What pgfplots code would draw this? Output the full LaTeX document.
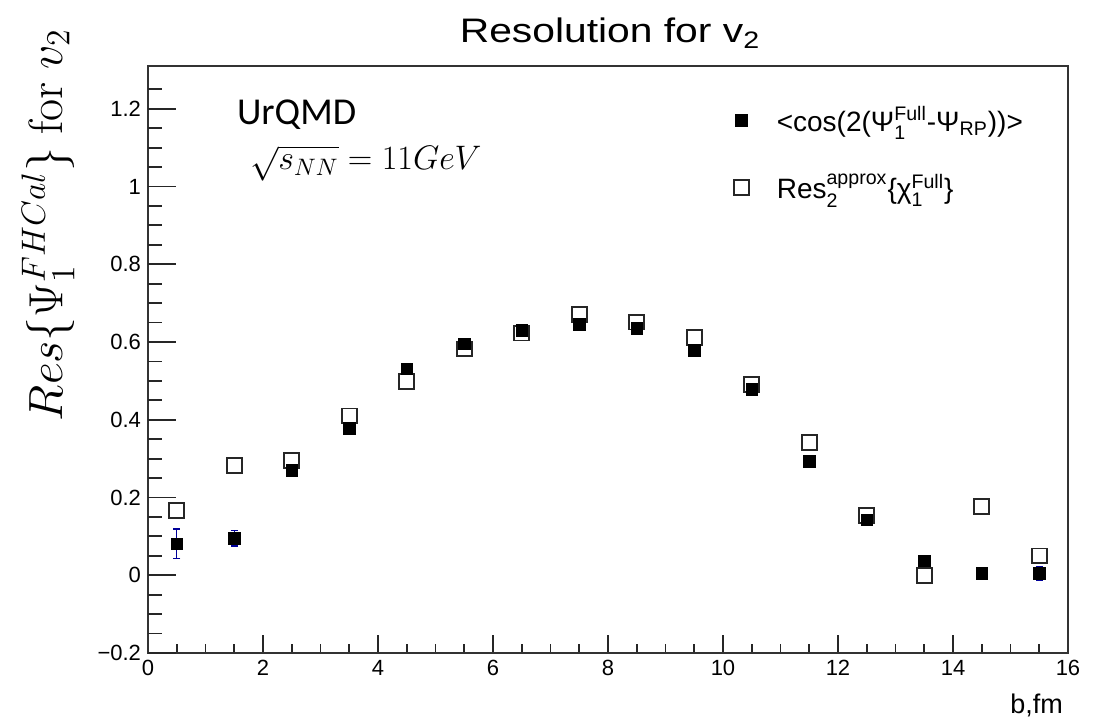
\RequirePackage{fix-cm}
\documentclass[border=0pt]{standalone}
\usepackage{amsmath}
\usepackage{fontspec}
\setmainfont{Liberation Sans}
\newfontfamily\lmserif{Latin Modern Roman}
\newfontfamily\carlito{Carlito}
\newfontfamily\widesans[FakeStretch=1.2]{Liberation Sans}
\usepackage{pgfplots}
\usepackage{pgfplotstable}
\pgfplotsset{compat=1.18}

\pgfplotstableread{
b     f      ef     o
0.5   0.081  0.038  0.167
1.5   0.095  0.020  0.283
2.5   0.269  0.008  0.295
3.5   0.378  0.006  0.410
4.5   0.531  0.005  0.498
5.5   0.595  0.005  0.582
6.5   0.630  0.005  0.623
7.5   0.645  0.005  0.670
8.5   0.635  0.005  0.651
9.5   0.578  0.005  0.611
10.5  0.478  0.005  0.490
11.5  0.293  0.005  0.342
12.5  0.142  0.006  0.153
13.5  0.037  0.006  0.000
14.5  0.004  0.006  0.177
15.5  0.004  0.017  0.050
}\data

\begin{document}
\begin{tikzpicture}
\useasboundingbox (-74pt,-34.5pt) rectangle (473pt,326.5pt);
\begin{axis}[
  name=main, at={(0pt,0pt)}, anchor=south west,
  scale only axis, width=460pt, height=293.5pt,
  xmin=0, xmax=16, ymin=-0.2, ymax=1.31,
  xtick={0,2,...,16}, xticklabels={0,2,4,6,8,10,12,14,16},
  minor xtick={0.5,1,...,15.5},
  ytick=\empty,
  xtick pos=bottom, tick align=inside,
  major tick length=9pt, minor tick length=4.5pt,
  tick style={black!85, line width=0.9pt},
  axis line style={black!80, line width=1pt},
  xticklabel style={font=\fontsize{11}{13}\selectfont},
  clip=false,
  reverse legend,
  legend style={at={(0.63,0.945)}, anchor=north west, draw=none, fill=none,
    font=\fontsize{14}{16}\selectfont, row sep=16pt, column sep=12pt},
  legend cell align=left,
]
\addplot[only marks, mark=square, mark size=3.7pt, mark options={draw=black!85, line width=0.9pt, fill=none}]
  table[x=b, y=o]{\data};
\addlegendentry{Res$_{\text{2}}^{\text{approx}}$\{χ$_{\text{1}}^{\text{Full}}$\}}
\addplot[only marks, mark=square*, mark size=2.9pt, mark options={fill=black, draw=black},
  error bars/.cd, y dir=both, y explicit,
  error bar style={blue!60!black, line width=0.6pt},
  error mark options={blue!60!black, line width=0.6pt, mark size=1.8pt, rotate=90}]
  table[x=b, y=f, y error=ef]{\data};
\addlegendentry{<cos(2(Ψ$_{\text{1}}^{\text{Full}}$-Ψ$_{\text{RP}}$))>}
\end{axis}
\begin{axis}[
  at={(0pt,0pt)}, anchor=south west,
  scale only axis, width=460pt, height=293.5pt,
  xmin=0, xmax=16, ymin=-0.2, ymax=1.31,
  xtick=\empty,
  ytick={-0.2,0,0.2,0.4,0.6,0.8,1,1.2},
  yticklabels={−0.2,0,0.2,0.4,0.6,0.8,1,1.2},
  minor ytick={-0.15,-0.1,-0.05,0.05,0.1,0.15,0.25,0.3,0.35,0.45,0.5,0.55,0.65,0.7,0.75,0.85,0.9,0.95,1.05,1.1,1.15,1.25},
  ytick pos=left, tick align=inside,
  major tick length=14pt, minor tick length=7pt,
  tick style={black!85, line width=0.9pt},
  axis line style={draw=none},
  yticklabel style={font=\fontsize{11}{13}\selectfont},
]
\end{axis}
\node[anchor=base, font=\widesans\fontsize{17}{20}\selectfont] at (231pt,305pt) {Resolution for v$_{\text{2}}$};
\node[anchor=base east, font=\fontsize{13.5}{16}\selectfont] at (461pt,-30.5pt) {b,fm};
\node[anchor=base west, font=\carlito\fontsize{19}{22}\selectfont] at (41pt,264pt) {UrQMD};
\node[anchor=base west, font=\fontsize{17}{20}\selectfont] at (47.5pt,241.5pt) {$\sqrt{s_{NN}} = 11GeV$};
\node[rotate=90, anchor=center, font=\fontsize{24}{28}\selectfont] at (-50pt,214pt) {$Res\{\Psi_1^{FHCal}\}$ {\lmserif for} $v_2$};
\end{tikzpicture}
\end{document}
